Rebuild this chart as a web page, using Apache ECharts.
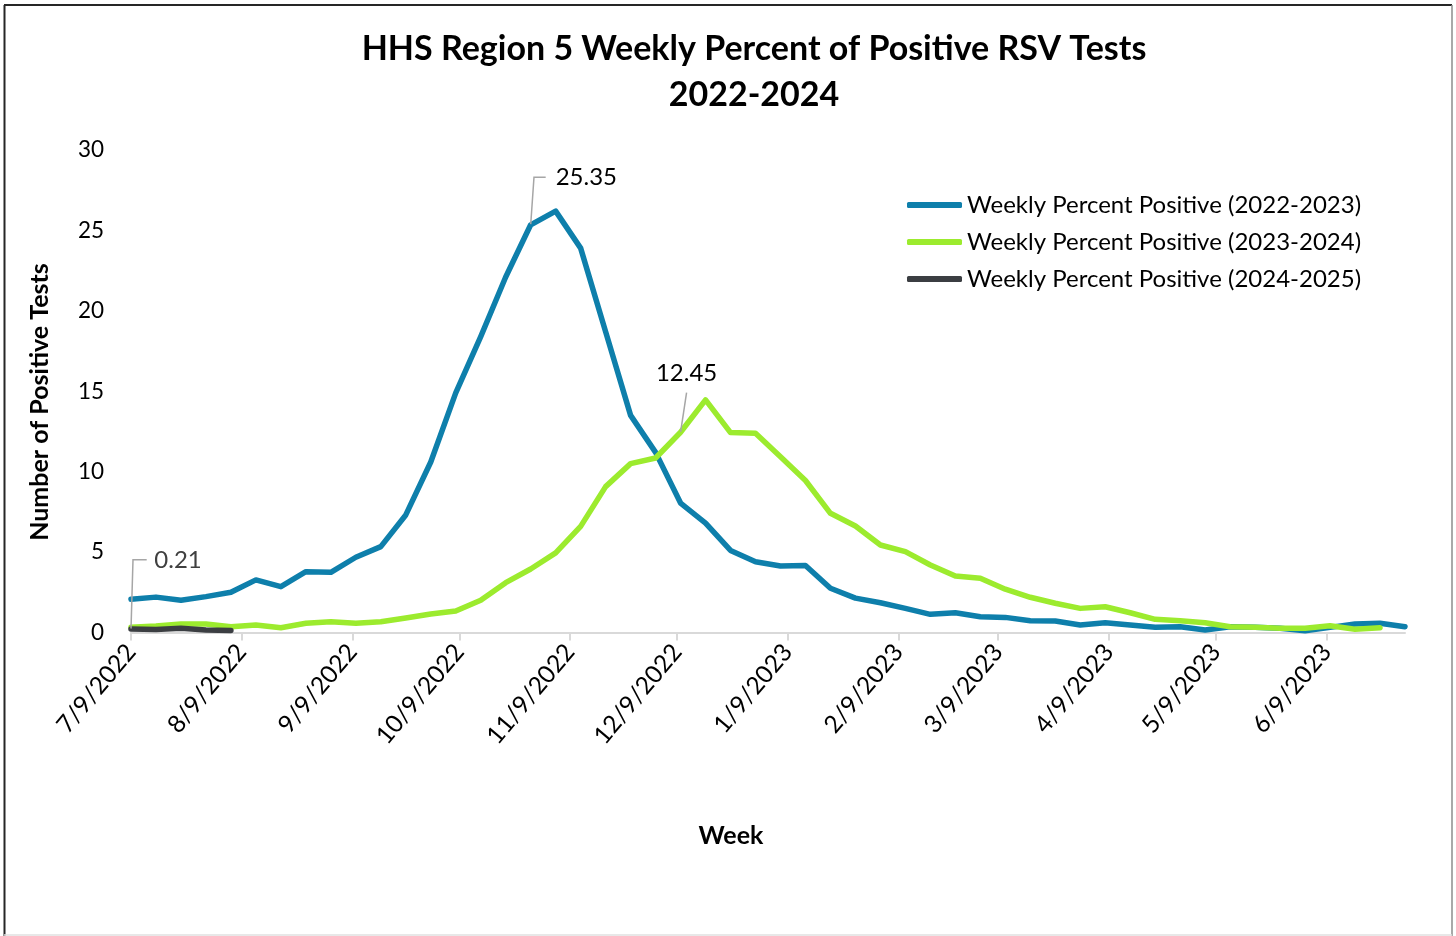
<!DOCTYPE html>
<html>
<head>
<meta charset="utf-8">
<script src="https://cdn.jsdelivr.net/npm/echarts@6/dist/echarts.min.js"></script>
<style>
html,body{margin:0;padding:0;background:#fff;}
#chart{width:1456px;height:936px;}
</style>
</head>
<body>
<div id="chart"></div>
<script>
// ---- data ----
const weeks = [
  '2022-07-09','2022-07-16','2022-07-23','2022-07-30','2022-08-06','2022-08-13','2022-08-20','2022-08-27',
  '2022-09-03','2022-09-10','2022-09-17','2022-09-24','2022-10-01','2022-10-08','2022-10-15','2022-10-22',
  '2022-10-29','2022-11-05','2022-11-12','2022-11-19','2022-11-26','2022-12-03','2022-12-10','2022-12-17',
  '2022-12-24','2022-12-31','2023-01-07','2023-01-14','2023-01-21','2023-01-28','2023-02-04','2023-02-11',
  '2023-02-18','2023-02-25','2023-03-04','2023-03-11','2023-03-18','2023-03-25','2023-04-01','2023-04-08',
  '2023-04-15','2023-04-22','2023-04-29','2023-05-06','2023-05-13','2023-05-20','2023-05-27','2023-06-03',
  '2023-06-10','2023-06-17','2023-06-24','2023-07-01'
];
const season2223 = [2.07,2.2,2.0,2.23,2.5,3.27,2.85,3.78,3.74,4.68,5.34,7.31,10.6,14.9,18.4,22.1,
  25.35,26.2,23.9,18.7,13.5,11.2,8.05,6.8,5.1,4.4,4.13,4.17,2.75,2.14,1.85,1.5,
  1.13,1.23,0.98,0.94,0.73,0.72,0.47,0.61,0.47,0.33,0.36,0.16,0.36,0.32,0.26,0.11,
  0.32,0.53,0.57,0.36];
const season2324 = [0.32,0.4,0.53,0.53,0.36,0.47,0.3,0.57,0.67,0.57,0.67,0.9,1.15,1.34,2.0,3.1,
  3.95,4.95,6.6,9.07,10.5,10.85,12.45,14.46,12.43,12.39,10.93,9.45,7.41,6.62,5.44,5.03,
  4.2,3.51,3.37,2.69,2.19,1.82,1.5,1.6,1.23,0.82,0.73,0.61,0.36,0.32,0.26,0.26,
  0.42,0.2,0.3];
const season2425 = [0.21,0.18,0.26,0.16,0.13];
const seriesNames = ['Weekly Percent Positive (2022-2023)','Weekly Percent Positive (2023-2024)','Weekly Percent Positive (2024-2025)'];
const labeledIndex = [16, 22, 0];
const tickDates = ['2022-07-09','2022-08-09','2022-09-09','2022-10-09','2022-11-09','2022-12-09',
  '2023-01-09','2023-02-09','2023-03-09','2023-04-09','2023-05-09','2023-06-09'];
const titleText = 'HHS Region 5 Weekly Percent of Positive RSV Tests\n2022-2024';
const xName = 'Week';
const yName = 'Number of Positive Tests';

// ---- styles ----
const seriesColors = ['#0e7fab','#9ceb2e','#3b3e42'];
const labelColors = ['#000', '#000', '#404040'];
// label box placement relative to its data point: [dx, dy, align]
const labelPlace = [[15, -47.5, 'left'], [6, -58.7, 'center'], [15.7, -69.3, 'left']];
// label box padding [top, right, bottom, left]
const labelPad = [[0, 20, 0, 10], [7, 0, 7, 0], [0, 60, 0, 7.6]];
// horizontal leader segment length
const leaderLen2 = [11.7, 0, 13.7];
const FONT = 'Lato, "Open Sans", sans-serif';

// ---- helpers ----
function ts(s){ const p = s.split('-').map(Number); return new Date(p[0], p[1]-1, p[2]).getTime(); }

function buildData(values, k){
  const labelIdx = labeledIndex[k];
  return values.map((v, i) => {
    if (i === labelIdx) {
      return {
        value: [ts(weeks[i]), v],
        label: { show: true, formatter: String(v), color: labelColors[k], padding: labelPad[k], backgroundColor: 'transparent' },
        labelLine: { show: true, length2: leaderLen2[k], lineStyle: { color: '#a6a6a6', width: 1.5 } }
      };
    }
    return [ts(weeks[i]), v];
  });
}

const allValues = [season2223, season2324, season2425];

const series = allValues.map((vals, k) => ({
  name: seriesNames[k],
  type: 'line',
  data: buildData(vals, k),
  symbol: 'circle',
  symbolSize: 1,
  showSymbol: true,
  lineStyle: { color: seriesColors[k], width: 5.5, cap: 'round', join: 'round' },
  itemStyle: { color: seriesColors[k] },
  label: { show: false, position: 'top', fontFamily: FONT, fontSize: 24 },
  labelLine: { length2: leaderLen2[k], lineStyle: { color: '#a6a6a6', width: 1.5 } },
  labelLayout: function (p) {
    const cx = p.rect.x + p.rect.width / 2;
    const cy = p.rect.y + p.rect.height / 2;
    const pl = labelPlace[k];
    return { x: cx + pl[0], y: cy + pl[1], align: pl[2], verticalAlign: 'middle' };
  },
  emphasis: { disabled: true },
  z: 2 + k
}));

const option = {
  animation: false,
  backgroundColor: '#fff',
  textStyle: { fontFamily: FONT },
  title: {
    text: titleText,
    left: 749,
    top: 21,
    textAlign: 'center',
    textStyle: { fontFamily: FONT, fontSize: 34, fontWeight: 'bold', color: '#000', lineHeight: 46 }
  },
  legend: {
    orient: 'vertical',
    left: 907,
    top: 193,
    padding: 0,
    icon: 'roundRect',
    itemWidth: 55,
    itemHeight: 6,
    itemGap: 13,
    data: seriesNames,
    textStyle: { fontFamily: FONT, fontSize: 24, color: '#000', lineHeight: 24 }
  },
  grid: { left: 131, right: 51, top: 150, bottom: 303.5, containLabel: false },
  xAxis: {
    type: 'value',
    min: ts(weeks[0]),
    max: ts(weeks[weeks.length - 1]),
    axisLine: { show: true, lineStyle: { color: '#d9d9d9', width: 2 } },
    axisTick: { show: true, customValues: tickDates.map(ts), length: 8, lineStyle: { color: '#d9d9d9', width: 2 } },
    axisLabel: {
      customValues: tickDates.map(ts),
      rotate: 50,
      margin: 15,
      fontFamily: FONT,
      fontSize: 24.5,
      color: '#000',
      formatter: function (val) { const d = new Date(val); return (d.getMonth()+1) + '/' + d.getDate() + '/' + d.getFullYear(); }
    },
    splitLine: { show: false }
  },
  yAxis: {
    type: 'value',
    min: 0, max: 30, interval: 5,
    axisLine: { show: false },
    axisTick: { show: false },
    splitLine: { show: false },
    axisLabel: { fontFamily: FONT, fontSize: 22.5, color: '#000', margin: 27 }
  },
  graphic: [
    { type: 'text', x: 731, y: 836,
      style: { text: xName, fontFamily: FONT, fontSize: 25, fontWeight: 'bold', fill: '#000', align: 'center', verticalAlign: 'middle' } },
    { type: 'text', x: 40, y: 402, rotation: Math.PI / 2,
      style: { text: yName, fontFamily: FONT, fontSize: 25, fontWeight: 'bold', fill: '#000', align: 'center', verticalAlign: 'middle' } },
    { type: 'line', shape: { x1: 4.5, y1: 5, x2: 4.5, y2: 936 }, style: { stroke: '#262626', lineWidth: 2 } },
    { type: 'line', shape: { x1: 4, y1: 5, x2: 1452, y2: 5 }, style: { stroke: '#262626', lineWidth: 2 } },
    { type: 'line', shape: { x1: 1452, y1: 5, x2: 1452, y2: 936 }, style: { stroke: '#8c8c8c', lineWidth: 1.5 } },
    { type: 'line', shape: { x1: 4, y1: 935, x2: 1452, y2: 935 }, style: { stroke: '#e0e0e0', lineWidth: 1.5 } }
  ],
  series: series
};

const chart = echarts.init(document.getElementById('chart'), null, { renderer: 'canvas' });
chart.setOption(option);
</script>
</body>
</html>
